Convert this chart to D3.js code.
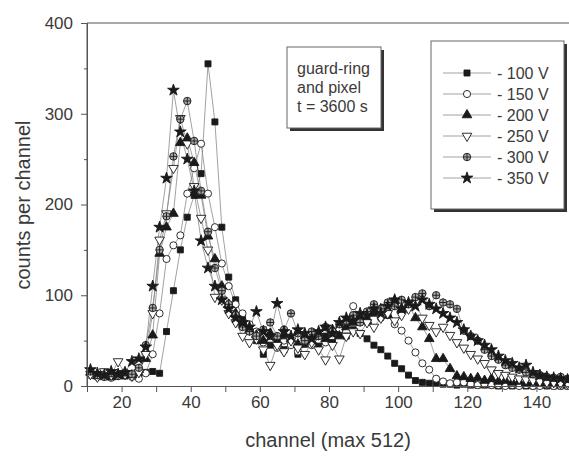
<!DOCTYPE html>
<html>
<head>
<meta charset="utf-8">
<script src="https://cdn.jsdelivr.net/npm/d3@7"></script>
<style>
  body { margin: 0; background: #fff; }
  text { font-family: 'Liberation Sans', Arial, sans-serif; fill: #3a3a3a; }
</style>
</head>
<body>
<div id="chart"></div>
<script>
const width = 569,
  height = 457;

// channel of each point (every second channel)
const channels = [11, 13, 15, 17, 19, 21, 23, 25, 27, 29, 31, 33, 35, 37, 39, 41, 43, 45, 47, 49,
  51, 53, 55, 57, 59, 61, 63, 65, 67, 69, 71, 73, 75, 77, 79, 81, 83, 85, 87, 89,
  91, 93, 95, 97, 99, 101, 103, 105, 107, 109, 111, 113, 115, 117, 119, 121, 123, 125, 127, 129,
  131, 133, 135, 137, 139, 141, 143, 145, 147, 149];

const v100 = [14, 12, 15, 10, 12, 11, 13, 14, 15, 16, 14, 60, 105, 150, 186, 210, 234, 355, 291, 175,
  120, 95, 75, 62, 50, 35, 45, 52, 40, 48, 35, 46, 52, 44, 55, 48, 60, 55, 62, 58,
  52, 45, 40, 33, 25, 19, 12, 6, 4, 3, 3, 2, 2, 1, 2, 1, 1, 1, 1, 0,
  1, 0, 1, 0, 0, 1, 0, 0, 0, 0];
const v150 = [12, 10, 14, 9, 11, 13, 10, 8, 14, 35, 80, 140, 155, 166, 212, 240, 267, 212, 175, 135,
  110, 90, 80, 68, 60, 48, 55, 42, 50, 45, 38, 52, 45, 55, 48, 58, 62, 70, 88, 75,
  70, 82, 75, 78, 68, 61, 50, 37, 25, 18, 8, 5, 3, 4, 4, 2, 1, 2, 1, 1,
  0, 1, 0, 1, 0, 0, 1, 0, 0, 0];
const v200 = [15, 11, 13, 10, 12, 14, 12, 18, 30, 56, 146, 175, 190, 268, 273, 246, 210, 165, 140, 110,
  90, 80, 70, 62, 56, 50, 58, 48, 55, 52, 46, 55, 50, 58, 52, 62, 55, 65, 70, 75,
  72, 80, 85, 78, 94, 85, 90, 75, 65, 52, 30, 30, 19, 11, 10, 8, 9, 6, 8, 5,
  6, 4, 5, 3, 4, 3, 2, 3, 2, 2];
const v250 = [13, 10, 16, 12, 27, 13, 11, 15, 35, 80, 161, 190, 240, 295, 267, 220, 185, 150, 98, 95,
  80, 70, 55, 48, 52, 40, 23, 45, 38, 50, 42, 35, 48, 40, 29, 45, 30, 55, 60, 58,
  70, 65, 75, 80, 72, 78, 85, 92, 75, 67, 60, 65, 56, 48, 42, 35, 30, 25, 18, 14,
  12, 10, 8, 7, 6, 5, 4, 4, 3, 3];
const v300 = [16, 12, 10, 14, 11, 15, 13, 20, 45, 86, 150, 187, 253, 294, 314, 270, 215, 170, 130, 105,
  90, 78, 65, 60, 55, 62, 70, 55, 62, 80, 58, 50, 60, 55, 65, 60, 68, 72, 78, 70,
  82, 90, 85, 92, 88, 95, 90, 98, 102, 88, 100, 92, 90, 85, 61, 55, 50, 40, 33, 29,
  23, 20, 18, 15, 13, 12, 10, 9, 10, 8];
const v350 = [18, 14, 12, 16, 13, 15, 27, 30, 43, 110, 175, 229, 326, 280, 250, 215, 160, 130, 110, 95,
  85, 75, 70, 65, 82, 60, 55, 91, 60, 55, 62, 58, 52, 60, 65, 58, 70, 75, 72, 80,
  78, 85, 80, 88, 95, 85, 92, 88, 95, 90, 85, 80, 75, 70, 62, 55, 50, 45, 40, 33,
  28, 25, 20, 23, 15, 12, 10, 9, 8, 7];

const seriesNames = ['- 100 V', '- 150 V', '- 200 V', '- 250 V', '- 300 V', '- 350 V'];
const seriesValues = [v100, v150, v200, v250, v300, v350];

const xTicks = [10, 20, 30, 40, 50, 60, 70, 80, 90, 100, 110, 120, 130, 140, 150];
const yTicks = [0, 50, 100, 150, 200, 250, 300, 350, 400];
const noteLines = ['guard-ring', 'and pixel', 't = 3600 s'];

// crossed circle marker
const crossCircle = {
  draw(ctx, size) {
    const r = Math.sqrt(size / Math.PI);
    ctx.moveTo(r, 0);
    ctx.arc(0, 0, r, 0, 2 * Math.PI);
    ctx.moveTo(-r, 0);
    ctx.lineTo(r, 0);
    ctx.moveTo(0, -r);
    ctx.lineTo(0, r);
  }
};

const markers = [
  { type: d3.symbolSquare, size: 36, fill: '#1a1a1a', rot: 0 },
  { type: d3.symbolCircle, size: 40, fill: '#fff', rot: 0 },
  { type: d3.symbolTriangle, size: 40, fill: '#1a1a1a', rot: 0 },
  { type: d3.symbolTriangle, size: 40, fill: '#fff', rot: 180 },
  { type: crossCircle, size: 44, fill: '#aaa', rot: 0 },
  { type: d3.symbolStar, size: 42, fill: '#1a1a1a', rot: 0 }
];

const svg = d3
  .select('#chart')
  .append('svg')
  .attr('width', width)
  .attr('height', height)
  .style('display', 'block');

let x = d3.scaleLinear().domain([10, 150]).range([87, 571]);
let y = d3.scaleLinear().domain([0, 400]).range([386, 23]);

// frame
svg
  .append('path')
  .attr('d', `M${x(150)},${y(400)}H${x(10)}V${y(0)}`)
  .attr('fill', 'none')
  .attr('stroke', '#555')
  .attr('stroke-width', 1);

// series lines
let line = d3
  .line()
  .x((d, i) => x(channels[i]))
  .y((d) => y(d));

seriesValues.forEach((vals) => {
  svg
    .append('path')
    .datum(vals)
    .attr('fill', 'none')
    .attr('stroke', '#8a8a8a')
    .attr('stroke-width', 0.8)
    .attr('d', line);
});

// markers
seriesValues.forEach((vals, k) => {
  const m = markers[k];
  svg
    .append('g')
    .selectAll('path')
    .data(vals)
    .enter()
    .append('path')
    .attr('d', d3.symbol().type(m.type).size(m.size))
    .attr('transform', (d, i) => `translate(${x(channels[i])},${y(d)}) rotate(${m.rot})`)
    .attr('fill', m.fill)
    .attr('stroke', '#1a1a1a')
    .attr('stroke-width', 0.9);
});

// axes
svg
  .append('g')
  .attr('transform', `translate(0,${y(0)})`)
  .call(
    d3
      .axisBottom(x)
      .tickValues(xTicks)
      .tickSize(6)
      .tickPadding(4)
      .tickFormat((d) => (d % 20 === 0 && d < 150 ? d : ''))
  )
  .call((g) => g.select('.domain').attr('stroke', '#555'))
  .call((g) => g.selectAll('.tick line').attr('stroke', '#555'))
  .call((g) => g.selectAll('.tick text').attr('font-size', 17).attr('font-family', null).attr('fill', '#3a3a3a'));

svg
  .append('g')
  .attr('transform', `translate(${x(10)},0)`)
  .call(
    d3
      .axisLeft(y)
      .tickValues(yTicks)
      .tickSize(6)
      .tickPadding(8)
      .tickFormat((d) => (d % 100 === 0 ? d : ''))
  )
  .call((g) => g.select('.domain').attr('stroke', '#555'))
  .call((g) =>
    g
      .selectAll('.tick line')
      .attr('stroke', '#555')
      .attr('x2', (d) => (d % 100 === 0 ? -6 : -3))
  )
  .call((g) => g.selectAll('.tick text').attr('font-size', 17).attr('font-family', null).attr('fill', '#3a3a3a'));

// axis titles
svg
  .append('text')
  .attr('x', 328)
  .attr('y', 447)
  .attr('text-anchor', 'middle')
  .attr('font-size', 20)
  .text('channel (max 512)');

svg
  .append('text')
  .attr('transform', 'translate(30,205) rotate(-90)')
  .attr('text-anchor', 'middle')
  .attr('font-size', 20)
  .text('counts per channel');

// note box
const note = svg.append('g').attr('transform', 'translate(287,47)');
note.append('rect').attr('x', 3).attr('y', 3).attr('width', 94).attr('height', 81).attr('fill', '#333');
note.append('rect').attr('width', 94).attr('height', 81).attr('fill', '#fff').attr('stroke', '#666');
note
  .selectAll('text')
  .data(noteLines)
  .enter()
  .append('text')
  .attr('x', 10)
  .attr('y', (d, i) => 27 + i * 19)
  .attr('font-size', 16)
  .text((d) => d);

// legend
const legend = svg.append('g').attr('transform', 'translate(431,41)');
legend.append('rect').attr('x', 3).attr('y', 3).attr('width', 133).attr('height', 168).attr('fill', '#333');
legend.append('rect').attr('width', 133).attr('height', 168).attr('fill', '#fff').attr('stroke', '#666');

seriesNames.forEach((name, k) => {
  const m = markers[k];
  const row = legend.append('g').attr('transform', `translate(0,${32 + k * 21})`);
  row
    .append('line')
    .attr('x1', 12)
    .attr('x2', 60)
    .attr('stroke', '#8a8a8a')
    .attr('stroke-width', 0.8);
  row
    .append('path')
    .attr('d', d3.symbol().type(m.type).size(m.size)())
    .attr('transform', `translate(36,0) rotate(${m.rot})`)
    .attr('fill', m.fill)
    .attr('stroke', '#1a1a1a')
    .attr('stroke-width', 0.9);
  row
    .append('text')
    .attr('x', 66)
    .attr('y', 6)
    .attr('font-size', 16)
    .text(name);
});
</script>
</body>
</html>
